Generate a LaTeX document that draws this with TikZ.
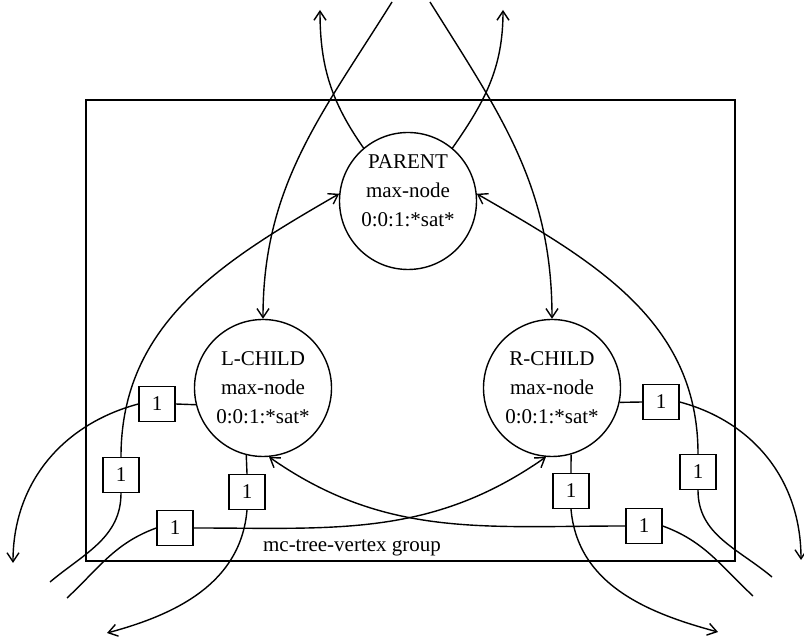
\documentclass[tikz,border=0pt]{standalone}
\usepackage{fontspec}
\setmainfont{Liberation Serif}
\usetikzlibrary{arrows.meta}
\tikzset{
  vertex/.style={draw, circle, line width=1.4pt, minimum size=137pt, inner sep=0pt},
  vertexlabel/.style={align=center, font=\fontsize{21}{29}\selectfont},
  weight/.style={draw, line width=1.4pt, minimum width=36pt, minimum height=35pt, inner sep=0pt, font=\fontsize{21}{24}\selectfont},
  wire/.style={line width=1.4pt},
  feed/.style={wire, -{Straight Barb[length=9pt, width=12pt, line width=1.4pt]}},
}
\begin{document}
\begin{tikzpicture}[x=1pt, y=1pt]
			\useasboundingbox (0,0) rectangle (804,642);
			\draw[line width=1.7pt] (86,81) rectangle (735,542);
			\node[font=\fontsize{21}{24}\selectfont] (grp) at (352,94) {mc-tree-vertex group};

			\node[vertex] (parent) at (408,441) {};
			\node[vertex] (lchild) at (263,254) {};
			\node[vertex] (rchild) at (552,254) {};
			\node[vertexlabel, yshift=10pt] (parenttxt) at (parent) {PARENT\\max-node\\0:0:1:*sat*};
			\node[vertexlabel] (lchildtxt) at (lchild) {L-CHILD\\max-node\\0:0:1:*sat*};
			\node[vertexlabel] (rchildtxt) at (rchild) {R-CHILD\\max-node\\0:0:1:*sat*};

			\node[weight] (wl1) at (157,238) {1};
			\node[weight] (wl2) at (121,167) {1};
			\node[weight] (wl3) at (247,150) {1};
			\node[weight] (wl4) at (175,114) {1};
			\node[weight] (wr1) at (661,240) {1};
			\node[weight] (wr2) at (698,170) {1};
			\node[weight] (wr3) at (571,151) {1};
			\node[weight] (wr4) at (644,116) {1};

			\coordinate (outpl) at (320,632);
			\coordinate (outpr) at (503,632);
			\coordinate (inl) at (392,640);
			\coordinate (inr) at (430,640);
			\coordinate (outll) at (13,79);
			\coordinate (outrr) at (801,82);
			\coordinate (endl2) at (50,60);
			\coordinate (endl4) at (67,44);
			\coordinate (outl3) at (107,9);
			\coordinate (outr3) at (718,10);
			\coordinate (endr2) at (772,65);
			\coordinate (endr4) at (753,46);

			\draw[feed] (parent.130) to[out=125, in=-90] (outpl);
			\draw[feed] (parent.50) to[out=55, in=-90] (outpr);
			\draw[feed] (inl) to[out=-122, in=90] (lchild.north);
			\draw[feed] (inr) to[out=-58, in=90] (rchild.north);
			\draw[feed] (wl2.north) to[out=90, in=210] (parent.174);
			\draw[feed] (wr2.north) to[out=90, in=-30] (parent.6);
			\draw[feed] (wl1.west) to[out=195, in=90] (outll);
			\draw[feed] (wr1.east) to[out=-15, in=90] (outrr);
			\draw[wire] (wl2.south) to[out=-90, in=40] (endl2);
			\draw[wire] (wl4.west) to[out=200, in=43] (endl4);
			\draw[feed] (wl3.south) to[out=-95, in=15] (outl3);
			\draw[feed] (wr3.south) to[out=-85, in=165] (outr3);
			\draw[wire] (wr2.south) to[out=-90, in=140] (endr2);
			\draw[wire] (wr4.east) to[out=-20, in=137] (endr4);
			\draw[feed] (wl4.east) to[out=0, in=215] (rchild.265);
			\draw[feed] (wr4.west) to[out=180, in=-35] (lchild.275);

			\draw[wire] (wl1.east) -- (lchild.194);
			\draw[wire] (wl3.north) -- (lchild.256);
			\draw[wire] (wr1.west) -- (rchild.348);
			\draw[wire] (wr3.north) -- (rchild.286);
		\end{tikzpicture}
\end{document}
